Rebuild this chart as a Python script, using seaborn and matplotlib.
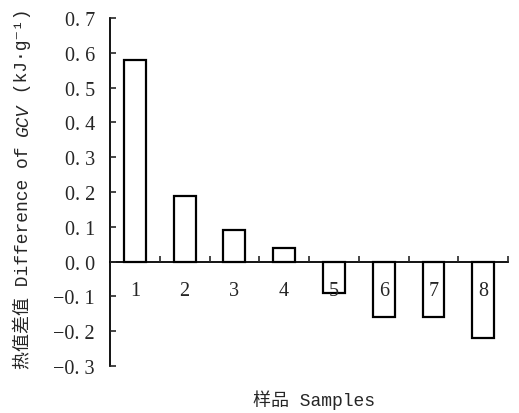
import matplotlib
matplotlib.use('Agg')
import matplotlib.pyplot as plt
import numpy as np
import pandas as pd
import seaborn as sns

#%% data
samples = ['1', '2', '3', '4', '5', '6', '7', '8']
gcv_diff = [0.58, 0.19, 0.09, 0.04, -0.09, -0.16, -0.16, -0.22]
ytick_vals = [-0.3, -0.2, -0.1, 0.0, 0.1, 0.2, 0.3, 0.4, 0.5, 0.6, 0.7]
ytick_labels = ['\u22120. 3', '\u22120. 2', '\u22120. 1', '0. 0', '0. 1', '0. 2',
                '0. 3', '0. 4', '0. 5', '0. 6', '0. 7']

sns.set_theme(style='white')
num_fam = ['Liberation Serif', 'DejaVu Sans']
lab_fam = ['Liberation Mono', 'Noto Sans CJK SC', 'DejaVu Sans']
plt.rcParams['font.family'] = num_fam

df = pd.DataFrame({'sample': samples, 'diff': gcv_diff})

#%% plot
fig = plt.figure(figsize=(5.19, 4.14), dpi=100)
ax = fig.add_axes([0.212, 0.1135, 0.767, 0.8405])
sns.barplot(x='sample', y='diff', data=df, color='white', edgecolor='black',
            linewidth=1.6, width=0.44, saturation=1, ax=ax)
ax.set(xlim=(-0.5, 7.5), ylim=(-0.3, 0.7), xlabel='', ylabel='')
ax.set_axisbelow(False)

ax.spines['top'].set_visible(False)
ax.spines['right'].set_visible(False)
ax.spines['bottom'].set_position(('data', 0))
for s in ['left', 'bottom']:
    ax.spines[s].set_linewidth(1.3)
    ax.spines[s].set_color('black')

ax.set_yticks(ytick_vals)
ax.set_yticklabels(ytick_labels, fontsize=14.5)
ax.tick_params(axis='y', direction='in', length=4, width=1.2, left=True, pad=11)

ax.set_xticks(range(len(samples)))
ax.set_xticklabels(samples, fontsize=14.5)
ax.set_xticks(np.arange(0.5, len(samples), 1), minor=True)
ax.tick_params(axis='x', which='major', length=0, pad=14)
ax.tick_params(axis='x', which='minor', direction='in', length=4, width=1.2, bottom=True)

fig.text(314 / 519, 1 - 400 / 414, '样品 Samples', ha='center', va='center',
         fontsize=13, family=lab_fam)

# y label in pieces so GCV can be italic
fig.canvas.draw()
r = fig.canvas.get_renderer()
pieces = [('热值差值 Difference of ', 'normal'), ('GCV', 'italic'), (' (kJ·g⁻¹)', 'normal')]
ts = []
total = 0
for txt, st in pieces:
    t = fig.text(0, 0, txt, rotation=90, fontsize=13, style=st, family=lab_fam,
                 ha='center', va='bottom')
    ts.append(t)
    total += t.get_window_extent(r).height
x0 = 23
cur = 414 - 189 - total / 2
for t in ts:
    t.set_position((x0 / 519, cur / 414))
    cur += t.get_window_extent(r).height

fig.savefig('out.png', dpi=100)
